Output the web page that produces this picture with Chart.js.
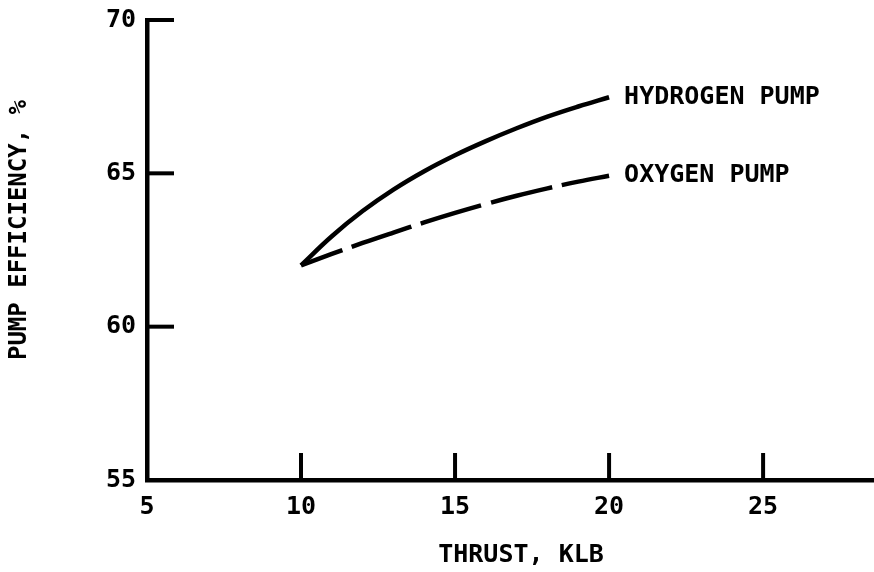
<!DOCTYPE html>
<html>
<head>
  <title>Pump Efficiency vs Thrust</title>
  <script src="https://cdn.jsdelivr.net/npm/chart.js"></script>
  <style>
    html, body { margin: 0; padding: 0; background: #ffffff; }
    #wrap { width: 874px; height: 572px; }
  </style>
</head>
<body>
<div id="wrap"><canvas id="pumpChart" width="874" height="572"></canvas></div>
<script>
  // data
  const thrust = [10, 11, 12, 13, 14, 15, 16, 17, 18, 19, 20];
  const hydrogenEff = [62.0, 62.95, 63.77, 64.47, 65.07, 65.59, 66.05, 66.47, 66.85, 67.18, 67.48];
  const oxygenEff = [62.0, 62.37, 62.73, 63.07, 63.4, 63.71, 64.0, 64.27, 64.51, 64.73, 64.92];
  const xTicks = [5, 10, 15, 20, 25];
  const yTicks = [55, 60, 65, 70];
  const seriesNames = ['HYDROGEN PUMP', 'OXYGEN PUMP'];
  const xTitle = 'THRUST, KLB';
  const yTitle = 'PUMP EFFICIENCY, %';

  const FONT = "'DejaVu Sans Mono', monospace";

  const toPts = ys => thrust.map((x, i) => ({ x: x, y: ys[i] }));

  // inward tick marks, axis titles, curve labels
  const extras = {
    id: 'extras',
    afterDraw(chart) {
      const ctx = chart.ctx;
      const xs = chart.scales.x, ys = chart.scales.y;
      const area = chart.chartArea;
      ctx.save();
      ctx.strokeStyle = '#000';
      ctx.lineWidth = 4;
      ctx.lineCap = 'butt';
      xTicks.forEach(v => {
        if (v === xs.min) return;
        const px = xs.getPixelForValue(v);
        ctx.beginPath();
        ctx.moveTo(px, area.bottom);
        ctx.lineTo(px, area.bottom - 27);
        ctx.stroke();
      });
      yTicks.forEach(v => {
        if (v === ys.min) return;
        const py = ys.getPixelForValue(v);
        ctx.beginPath();
        ctx.moveTo(area.left, py);
        ctx.lineTo(area.left + 27, py);
        ctx.stroke();
      });

      ctx.fillStyle = '#000';
      ctx.font = 'bold 25px ' + FONT;
      ctx.textBaseline = 'middle';

      // labels at line ends
      ctx.textAlign = 'left';
      chart.data.datasets.forEach((ds, i) => {
        const last = ds.data[ds.data.length - 1];
        const px = xs.getPixelForValue(last.x);
        const py = ys.getPixelForValue(last.y);
        ctx.fillText(seriesNames[i], px + 15, py);
      });

      // axis titles
      ctx.textAlign = 'center';
      ctx.fillText(xTitle, 521, 555);
      ctx.translate(20, 230);
      ctx.rotate(-Math.PI / 2);
      ctx.font = 'bold 24px ' + FONT;
      ctx.fillText(yTitle, 0, 0);
      ctx.restore();
    }
  };

  new Chart(document.getElementById('pumpChart'), {
    type: 'line',
    data: {
      datasets: [
        {
          label: seriesNames[0],
          data: toPts(hydrogenEff),
          borderColor: '#000',
          borderWidth: 4.5,
          pointRadius: 0,
          tension: 0.4,
          fill: false
        },
        {
          label: seriesNames[1],
          data: toPts(oxygenEff),
          borderColor: '#000',
          borderWidth: 4.5,
          borderDash: [63, 10],
          borderDashOffset: 19,
          pointRadius: 0,
          tension: 0.4,
          fill: false
        }
      ]
    },
    options: {
      responsive: false,
      animation: false,
      layout: { padding: { top: 20, right: 0, left: 0, bottom: 0 } },
      plugins: { legend: { display: false }, tooltip: { enabled: false } },
      scales: {
        x: {
          type: 'linear',
          min: 5,
          max: 28.6,
          afterBuildTicks: s => { s.ticks = xTicks.map(v => ({ value: v })); },
          afterFit: s => { s.height = 92; s.paddingLeft = 0; s.paddingRight = 0; },
          grid: { display: false, drawTicks: false },
          border: { display: true, color: '#000', width: 4.5 },
          ticks: {
            color: '#000',
            padding: 12,
            font: { family: FONT, size: 25, weight: 'bold' }
          }
        },
        y: {
          min: 55,
          max: 70,
          afterBuildTicks: s => { s.ticks = yTicks.map(v => ({ value: v })); },
          afterFit: s => { s.width = 147; s.paddingTop = 0; s.paddingBottom = 0; },
          grid: { display: false, drawTicks: false },
          border: { display: true, color: '#000', width: 4.5 },
          ticks: {
            color: '#000',
            padding: 11,
            font: { family: FONT, size: 25, weight: 'bold' }
          }
        }
      }
    },
    plugins: [extras]
  });
</script>
</body>
</html>
